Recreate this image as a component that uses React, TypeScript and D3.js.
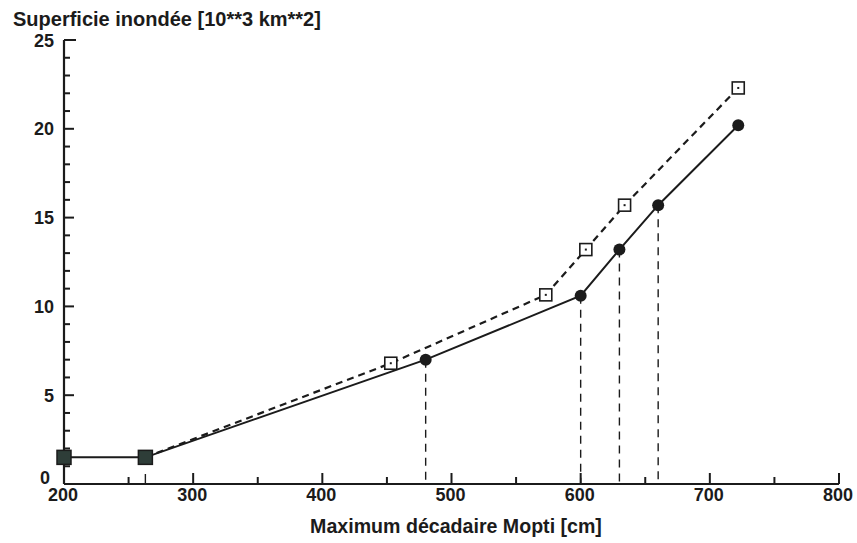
import React from "react";
import * as d3 from "d3";

// Flooded area versus decadal maximum stage at Mopti
const solidX = [200, 263, 480, 600, 630, 660, 722];
const solidY = [1.5, 1.5, 7.0, 10.6, 13.2, 15.7, 20.2];
const dashedX = [263, 453, 573, 604, 634, 722];
const dashedY = [1.5, 6.8, 10.65, 13.2, 15.7, 22.3];
const dropX = [480, 600, 630, 660];
const dropY = [7.0, 10.6, 13.2, 15.7];
const xTicks = [200, 300, 400, 500, 600, 700, 800];
const yTicks = [0, 5, 10, 15, 20, 25];

const W = 857;
const H = 543;
const INK = "#1b1b1b";
const FONT = "'Liberation Sans', Arial, Helvetica, sans-serif";

export default function App() {
  const x = d3.scaleLinear().domain([200, 800]).range([64, 839]);
  const y = d3.scaleLinear().domain([0, 25]).range([484, 40]);

  const line = d3
    .line<[number, number]>()
    .x((d) => x(d[0]))
    .y((d) => y(d[1]));

  const solidPts = solidX.map((v, i) => [v, solidY[i]] as [number, number]);
  const dashedPts = dashedX.map((v, i) => [v, dashedY[i]] as [number, number]);

  const yMinor = d3.range(0, 26, 1);
  const xMinor = d3.range(200, 801, 50);

  return (
    <svg
      width={W}
      height={H}
      style={{ position: "absolute", left: 0, top: 0, background: "#fff" }}
    >
      {/* title of the y axis */}
      <text x={13} y={26} fontFamily={FONT} fontWeight="bold" fontSize={20} fill={INK}>
        Superficie inondée [10**3 km**2]
      </text>

      {/* drop lines from the solid series down to the x axis */}
      {dropX.map((v, i) => (
        <line
          key={"drop" + i}
          x1={x(v)}
          x2={x(v)}
          y1={y(dropY[i])}
          y2={y(0)}
          stroke={INK}
          strokeWidth={1.4}
          strokeDasharray="8,6"
        />
      ))}
      <line x1={x(263)} x2={x(263)} y1={y(0)} y2={y(0) - 10} stroke={INK} strokeWidth={1.4} />

      {/* axes */}
      <line x1={x(200)} x2={x(200)} y1={y(0)} y2={y(25)} stroke={INK} strokeWidth={2.2} />
      <line x1={x(200)} x2={x(800)} y1={y(0)} y2={y(0)} stroke={INK} strokeWidth={2.2} />

      {yMinor.map((v) => (
        <line
          key={"yt" + v}
          x1={x(200)}
          x2={x(200) + (v === 25 ? 12 : v % 5 === 0 ? 10 : 6)}
          y1={y(v)}
          y2={y(v)}
          stroke={INK}
          strokeWidth={2}
        />
      ))}
      {xMinor.map((v) => (
        <line
          key={"xt" + v}
          x1={x(v)}
          x2={x(v)}
          y1={y(0)}
          y2={y(0) - (v % 100 === 0 ? 11 : 7)}
          stroke={INK}
          strokeWidth={2}
        />
      ))}

      {yTicks.map((v) => (
        <text
          key={"yl" + v}
          x={v === 0 ? 50 : 54}
          y={v === 0 ? y(0) - 0.5 : y(v) + 6.5}
          textAnchor="end"
          fontFamily={FONT}
          fontWeight="bold"
          fontSize={18}
          fill={INK}
        >
          {v}
        </text>
      ))}
      {xTicks.map((v) => (
        <text
          key={"xl" + v}
          x={x(v) - 1}
          y={501}
          textAnchor="middle"
          fontFamily={FONT}
          fontWeight="bold"
          fontSize={18}
          fill={INK}
        >
          {v}
        </text>
      ))}
      <text
        x={456}
        y={533}
        textAnchor="middle"
        fontFamily={FONT}
        fontWeight="bold"
        fontSize={19.6}
        fill={INK}
      >
        Maximum décadaire Mopti [cm]
      </text>

      {/* series */}
      <path
        d={line(dashedPts) ?? ""}
        fill="none"
        stroke={INK}
        strokeWidth={2.2}
        strokeDasharray="7,5"
      />
      <path d={line(solidPts) ?? ""} fill="none" stroke={INK} strokeWidth={2} />

      {dashedPts.slice(1).map((p, i) => (
        <g key={"sq" + i}>
          <rect
            x={x(p[0]) - 6}
            y={y(p[1]) - 6}
            width={12}
            height={12}
            fill="#fff"
            stroke={INK}
            strokeWidth={1.6}
          />
          <rect x={x(p[0]) - 1} y={y(p[1]) - 1} width={2} height={2} fill={INK} />
        </g>
      ))}

      {solidPts.map((p, i) =>
        i < 2 ? (
          <rect
            key={"fs" + i}
            x={x(p[0]) - 7}
            y={y(p[1]) - 7}
            width={14}
            height={14}
            fill="#2e3d38"
            stroke={INK}
            strokeWidth={1.5}
          />
        ) : (
          <circle key={"c" + i} cx={x(p[0])} cy={y(p[1])} r={6} fill={INK} />
        )
      )}
    </svg>
  );
}
